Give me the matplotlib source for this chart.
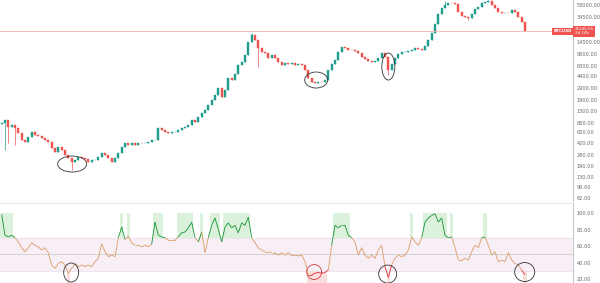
import numpy as np
import matplotlib
matplotlib.use('Agg')
import matplotlib.pyplot as plt
from matplotlib.patches import Ellipse
from matplotlib.collections import LineCollection
import matplotlib.transforms as mtransforms
from matplotlib.ticker import NullLocator, FixedLocator, FixedFormatter

# ---------------- data ----------------
close = [853, 948, 742, 795, 716, 601, 471, 439, 523, 623,
         561, 541, 505, 471, 439, 356, 309, 368, 332, 278,
         251, 218, 234, 260, 251, 238, 218, 230, 234, 260,
         299, 278, 251, 218, 251, 299, 368, 424, 395, 424,
         395, 424, 420, 428, 439, 471, 471, 716, 668, 623,
         601, 623, 623, 668, 716, 742, 795, 948, 884, 1052,
         1211,
         1345, 1600, 1910, 2270, 2900, 2120, 2710, 4120, 3840, 4740,
         6490, 7210, 9210, 14520, 18550, 15580, 11770, 10230, 9880, 8290,
         9210, 8290, 7210, 6490, 6960, 6720, 6960, 6490, 6720, 6490,
         5450, 4120, 3580, 3460, 3580, 3540, 3840, 5450, 6720, 7730,
         10230, 12190, 11770, 10970, 10900, 10600, 9880, 8590, 8010, 7470,
         7210, 7470, 8290, 9880, 8590, 5450, 6720, 8290, 9540, 10230,
         10230, 10600, 10970, 11770, 11360, 10970, 12620, 15580, 19900, 27260,
         38670, 47730, 53000, 56850, 56500, 54880, 41480, 36060, 34820, 33620,
         38670, 46080, 49400, 56850, 58900, 61000, 53000, 47730, 41480, 40050,
         40300, 40050, 44490, 41480, 34820, 29240, 21145.55]
first_open = 820
wick_high = {75: 19900, 133: 61000, 146: 62500}
wick_low = {1: 332, 2: 424, 4: 395, 21: 165, 77: 6055, 116: 4500, 140: 31500}

rsi = [98, 73, 71, 73, 70, 65, 58, 53, 58, 64,
       61, 59, 55, 58, 52, 37, 33, 39, 41, 37,
       27, 33, 39, 35, 37, 35, 37, 35, 41, 45,
       63, 53, 47, 49, 47, 70, 83, 68, 72, 64,
       61, 61, 59, 61, 59, 62, 89, 73, 71, 70,
       67, 67, 67, 71, 76, 77, 82, 89, 70, 65,
       77, 52, 70, 85, 94, 80, 65, 83, 88, 82,
       85, 76, 88, 85, 95, 70, 64, 58, 55, 53,
       53, 52, 52, 49, 52, 49, 52, 48, 49, 48,
       49, 41, 25, 25, 27, 28, 27, 28, 31, 61,
       85, 82, 85, 85, 73, 70, 65, 49, 58, 49,
       45, 49, 45, 55, 61, 35, 22, 37, 45, 49,
       47, 49, 55, 71, 65, 61, 70, 89, 94, 97,
       99, 89, 94, 73, 70, 71, 58, 43, 43, 45,
       43, 53, 61, 58, 70, 71, 61, 49, 53, 41,
       43, 41, 52, 43, 39, 37, 31, 25]

price_ticks = [53000, 34500, 14500, 9500, 6300, 4400, 2900, 1900, 1300,
               860, 620, 420, 280, 190, 130, 90, 62]
rsi_ticks = [100, 80, 60, 40, 20]
symbol = 'BTCUSD'
last_label = '21145.55'
countdown = '2d 14h'

# annotation rings: (x index, value, width px, height px, colour)
price_rings = [(21.15, 203, 29, 16, '#333333'),
               (94.35, 3840, 23, 16, '#333333'),
               (116.0, 6160, 13, 27, '#333333')]
rsi_rings = [(20.85, 27.9, 15, 19, '#333333'),
             (93.75, 28.5, 15, 15, '#d04040'),
             (115.8, 26.0, 18, 18, '#333333'),
             (156.9, 28.5, 20, 19, '#333333')]

# ---------------- figure ----------------
UP = '#1f9e8e'
DOWN = '#ef5350'
W, H = 600, 283
fig = plt.figure(figsize=(W / 100, H / 100), dpi=100)
fig.patch.set_facecolor('white')
axw = 573 / W
ax = fig.add_axes([0, 1 - 201 / H, axw, 201 / H])
ax2 = fig.add_axes([0, 0, axw, 80 / H])

n = len(close)
x = np.arange(n)
c = np.array(close, dtype=float)
o = np.concatenate([[first_open], c[:-1]])
hi = np.maximum(o, c)
lo = np.minimum(o, c)
for k, v in wick_high.items():
    hi[k] = v
for k, v in wick_low.items():
    lo[k] = v
cols = [UP if cc >= oo else DOWN for oo, cc in zip(o, c)]

ax.vlines(x, lo, hi, colors=cols, linewidth=0.5)
ax.bar(x, np.maximum(o, c) - np.minimum(o, c), bottom=np.minimum(o, c),
       width=0.55, color=cols, edgecolor=cols, linewidth=0.3)

ax.set_yscale('log')
ax.set_ylim(55.7, 63150)
ax.set_xlim(-0.5, 171.4)
ax.yaxis.tick_right()
ax.yaxis.set_major_locator(FixedLocator(price_ticks))
ax.yaxis.set_major_formatter(FixedFormatter([f'{v:.2f}' for v in price_ticks]))
ax.yaxis.set_minor_locator(NullLocator())
ax.tick_params(axis='y', length=0, labelsize=3.6, labelcolor='#666666', pad=2.5)
ax.set_xticks([])
for s in ['top', 'left', 'bottom']:
    ax.spines[s].set_visible(False)
ax.spines['right'].set_color('#bbbbbb')
ax.spines['right'].set_linewidth(0.6)

# last-price line and labels
ax.axhline(c[-1], color='#f3b0b0', linewidth=0.6)
bt = mtransforms.blended_transform_factory(ax.transAxes, ax.transData)
ax.text(0.999, c[-1], symbol, transform=bt, ha='right', va='center',
        fontsize=3.0, color='white', fontweight='bold',
        bbox=dict(boxstyle='square,pad=0.35', fc=DOWN, ec='none'), clip_on=False)
ax.text(1.003, c[-1], last_label + '\n' + countdown, transform=bt, ha='left',
        va='center', fontsize=3.0, color='white', linespacing=1.0,
        bbox=dict(boxstyle='square,pad=0.35', fc=DOWN, ec='none'), clip_on=False)

# ---------------- RSI pane ----------------
r = np.array(rsi, dtype=float)
ax2.set_xlim(-0.5, 171.4)
ax2.set_ylim(15.2, 112.1)
ax2.axhspan(30, 70, color='#f8eef6', zorder=0)
ax2.axhline(70, color='#ece0ea', linewidth=0.5, zorder=1)
ax2.axhline(30, color='#ece0ea', linewidth=0.5, zorder=1)
ax2.axhline(50, color='#cfcfcf', linewidth=0.6, zorder=1)
ob = r > 70
os_ = r < 30
ax2.bar(x[ob], 30, bottom=70, width=1.0, color='#dcf1dc', zorder=0.5)
ax2.bar(x[os_], 15, bottom=15.2, width=1.0, color='#f9dede', zorder=0.5)

pts = np.column_stack([x, r])
segs = np.stack([pts[:-1], pts[1:]], axis=1)
mid = (r[:-1] + r[1:]) / 2
seg_cols = ['#1e9a3c' if m > 70 else ('#e03c3c' if m < 30 else '#dca16c') for m in mid]
ax2.add_collection(LineCollection(segs, colors=seg_cols, linewidths=0.65, zorder=3))

ax2.yaxis.tick_right()
ax2.set_yticks(rsi_ticks)
ax2.set_yticklabels([f'{v:.2f}' for v in rsi_ticks])
ax2.tick_params(axis='y', length=0, labelsize=3.6, labelcolor='#666666', pad=2.5)
ax2.set_xticks([])
for s in ['left', 'bottom']:
    ax2.spines[s].set_visible(False)
ax2.spines['top'].set_color('#e0e0e0')
ax2.spines['top'].set_linewidth(0.6)
ax2.spines['right'].set_color('#bbbbbb')
ax2.spines['right'].set_linewidth(0.6)


def ring(a, xd, yd, w, h, color):
    tr = fig.dpi_scale_trans + mtransforms.ScaledTranslation(xd, yd, a.transData)
    e = Ellipse((0, 0), w / 100, h / 100, transform=tr, fill=False,
                edgecolor=color, linewidth=0.6, zorder=5, clip_on=False)
    a.add_artist(e)


for xr, yr, w, h, col in price_rings:
    ring(ax, xr, yr, w, h, col)
for xr, yr, w, h, col in rsi_rings:
    ring(ax2, xr, yr, w, h, col)

fig.savefig('out.png', dpi=100, facecolor='white')
